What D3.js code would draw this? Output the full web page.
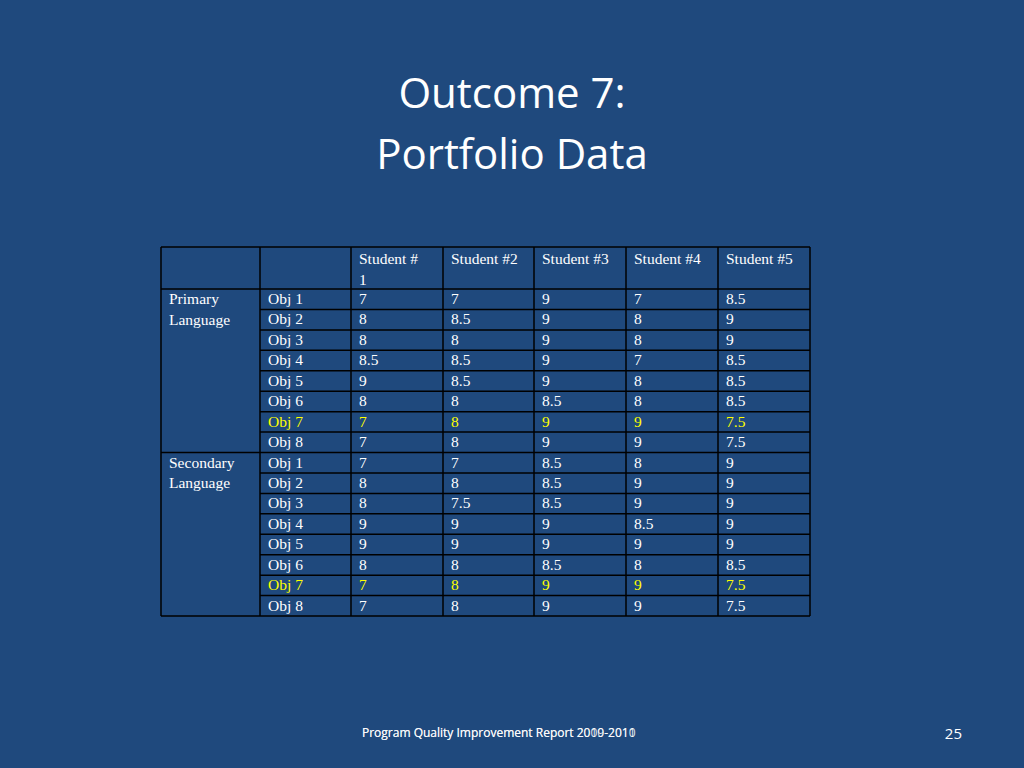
<!DOCTYPE html>
<html><head><meta charset="utf-8">
<script src="https://cdn.jsdelivr.net/npm/d3@7"></script>
<style>body{margin:0;background:#1F497D;}svg{display:block}</style>
</head><body>
<script>
const headers = ["", "", "Student #|1", "Student #2", "Student #3", "Student #4", "Student #5"];
const groups = ["Primary|Language", "Secondary|Language"];
const objs = ["Obj 1","Obj 2","Obj 3","Obj 4","Obj 5","Obj 6","Obj 7","Obj 8"];
const primary = [
 [7,7,9,7,8.5],[8,8.5,9,8,9],[8,8,9,8,9],[8.5,8.5,9,7,8.5],
 [9,8.5,9,8,8.5],[8,8,8.5,8,8.5],[7,8,9,9,7.5],[7,8,9,9,7.5]];
const secondary = [
 [7,7,8.5,8,9],[8,8,8.5,9,9],[8,7.5,8.5,9,9],[9,9,9,8.5,9],
 [9,9,9,9,9],[8,8,8.5,8,8.5],[7,8,9,9,7.5],[7,8,9,9,7.5]];
const highlightObj = "Obj 7";

const svg = d3.select("body").append("svg").attr("width",1024).attr("height",768);
svg.append("rect").attr("width",1024).attr("height",768).attr("fill","#1F497D");

svg.append("text").attr("x",512).attr("y",108).attr("text-anchor","middle")
 .attr("fill","#fff").attr("font-family","Open Sans, sans-serif").attr("font-size",42).text("Outcome 7:");
svg.append("text").attr("x",512).attr("y",169).attr("text-anchor","middle")
 .attr("fill","#fff").attr("font-family","Open Sans, sans-serif").attr("font-size",42).text("Portfolio Data");

const colEdges = [161,260,351,443,534,626,718,810];
const x0 = 161, x1 = 810, headTop = 247, headBot = 289, bottom = 616;
const rows = [];
[primary, secondary].forEach((g,gi)=>g.forEach((vals,i)=>rows.push({gi,i,obj:objs[i],vals})));
const y = d3.scaleBand().domain(d3.range(rows.length)).range([headBot,bottom]);

const font = "Liberation Serif, Times New Roman, serif";
const g = svg.append("g").attr("font-family",font).attr("font-size",15.5).attr("fill","#fff");

// header text
headers.forEach((h,ci)=>{
  h.split("|").forEach((line,li)=>{
    if(line) g.append("text").attr("x",colEdges[ci]+8).attr("y",headTop+17+li*20.5).text(line);
  });
});
// group labels
groups.forEach((t,gi)=>{
  t.split("|").forEach((line,li)=>{
    g.append("text").attr("x",colEdges[0]+8).attr("y",y(gi*8)+15+li*20.5).text(line);
  });
});
// rows
rows.forEach((r,ri)=>{
  const col = r.obj===highlightObj ? "#FFFF00" : "#fff";
  g.append("text").attr("x",colEdges[1]+8).attr("y",y(ri)+15).attr("fill",col).text(r.obj);
  r.vals.forEach((v,vi)=>g.append("text").attr("x",colEdges[vi+2]+8).attr("y",y(ri)+15).attr("fill",col).text(v));
});

// grid lines
const L = svg.append("g").attr("stroke","#000").attr("stroke-width",1.5);
L.append("line").attr("x1",x0).attr("x2",x1).attr("y1",headTop).attr("y2",headTop);
L.append("line").attr("x1",x0).attr("x2",x1).attr("y1",bottom).attr("y2",bottom);
L.append("line").attr("x1",x0).attr("x2",x1).attr("y1",headBot).attr("y2",headBot);
rows.forEach((r,ri)=>{
  if(ri===0) return;
  const xs = (ri===8) ? x0 : colEdges[1];
  L.append("line").attr("x1",xs).attr("x2",x1).attr("y1",y(ri)).attr("y2",y(ri));
});
colEdges.forEach(cx=>L.append("line").attr("x1",cx).attr("x2",cx).attr("y1",headTop).attr("y2",bottom));

// footer
["Program Quality Improvement Report 2009-2010","Program Quality Improvement Report 2010-2011"].forEach(t=>
 svg.append("text").attr("x",362).attr("y",737).attr("fill","#fff").attr("font-family","Open Sans, sans-serif")
  .attr("font-size",12).attr("opacity",0.85).text(t));
svg.append("text").attr("x",962).attr("y",739).attr("text-anchor","end").attr("fill","#fff")
 .attr("font-family","Open Sans, sans-serif").attr("font-size",15).text("25");
</script>
</body></html>
